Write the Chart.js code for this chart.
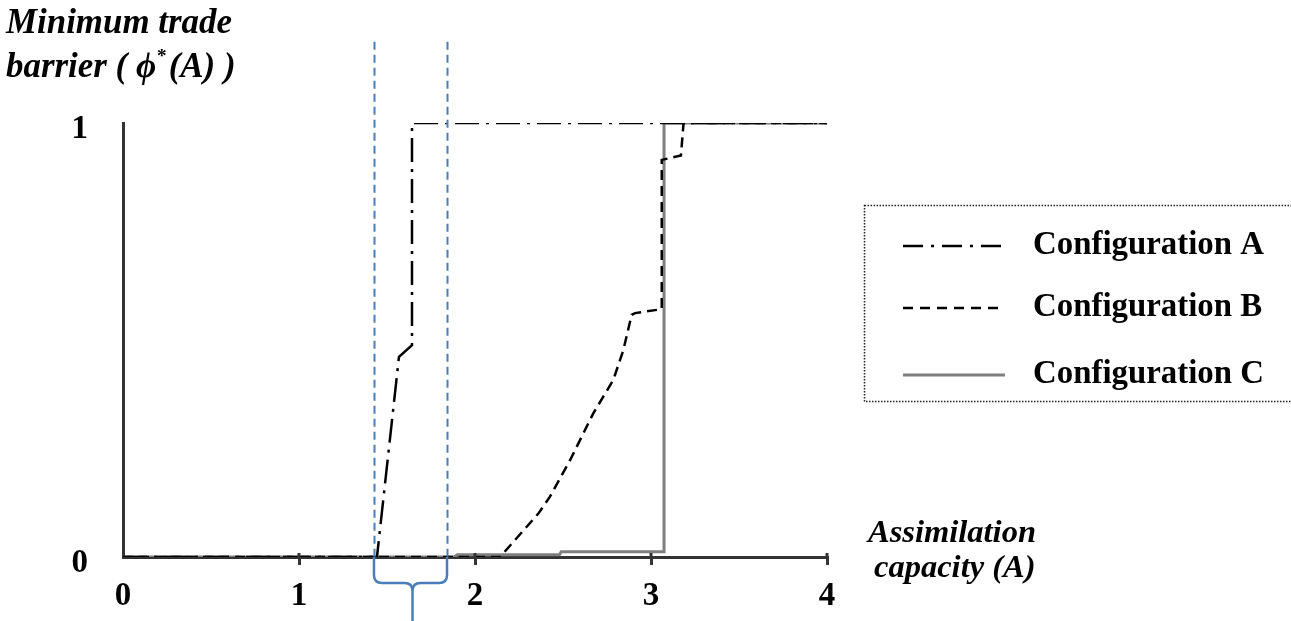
<!DOCTYPE html>
<html><head><meta charset="utf-8">
<script src="https://cdn.jsdelivr.net/npm/chart.js@4/dist/chart.umd.min.js"></script>
<style>html,body{margin:0;padding:0;background:#fff;}#wrap{width:1291px;height:621px;position:relative;}</style>
</head><body><div id="wrap"><canvas id="c" width="1291" height="621"></canvas></div>
<script>
// ---- data ----
const configAx = [0, 1.443, 1.568, 1.642, 1.642, 4];
const configAy = [0, 0, 0.461, 0.488, 1, 1];
const configBx = [0, 2.142, 2.360, 2.426, 2.540, 2.672, 2.786, 2.843, 2.890, 2.909, 3.061, 3.061, 3.170, 3.185, 4];
const configBy = [0, 0, 0.100, 0.139, 0.223, 0.331, 0.408, 0.477, 0.558, 0.562, 0.571, 0.915, 0.925, 1, 1];
const configCx = [0, 1.88, 1.90, 2.48, 2.49, 3.074, 3.074, 4];
const configCy = [0, 0, 0.005, 0.005, 0.012, 0.012, 1, 1];
const seriesNames = ['Configuration A', 'Configuration B', 'Configuration C'];
const xTickValues = [0, 1, 2, 3, 4];
const yTickValues = [0, 1];
const intervalBounds = [1.426, 1.841];
const intervalTop = 1.187;
const yTitleLines = ['Minimum trade', 'barrier ( ϕ', '*', '(A) )'];
const xTitleLines = ['Assimilation', 'capacity (A)'];

function pts(xs, ys) { return xs.map((x, i) => ({x: x, y: ys[i]})); }

const AXIS = '#333333';
const BLUE = '#4a7ebb';
const SERIF = '"Liberation Serif", "DejaVu Serif", serif';

function fitFont(ctx, str, style, targetW) {
  ctx.font = style + ' 100px ' + SERIF;
  const w = ctx.measureText(str).width;
  return 100 * targetW / w;
}

const overlay = {
  id: 'overlay',
  afterDatasetsDraw(chart) {
    const ctx = chart.ctx;
    const xs = chart.scales.x, ys = chart.scales.y;
    const yBottom = ys.getPixelForValue(0);
    const yTop = ys.getPixelForValue(intervalTop);
    ctx.save();
    ctx.strokeStyle = BLUE; ctx.lineWidth = 2; ctx.setLineDash([8, 5]);
    intervalBounds.forEach(v => {
      const px = Math.round(xs.getPixelForValue(v)) + 0.5;
      ctx.beginPath(); ctx.moveTo(px, yTop); ctx.lineTo(px, yBottom); ctx.stroke();
    });
    ctx.restore();
  },
  afterDraw(chart) {
    const ctx = chart.ctx;
    const xs = chart.scales.x, ys = chart.scales.y;
    const yBottom = ys.getPixelForValue(0);
    // x-axis tick stubs above the axis line
    ctx.save();
    ctx.strokeStyle = AXIS; ctx.lineWidth = 3;
    xTickValues.forEach(v => {
      if (v === 0) return;
      const px = xs.getPixelForValue(v);
      ctx.beginPath(); ctx.moveTo(px, yBottom - 4); ctx.lineTo(px, yBottom); ctx.stroke();
    });
    ctx.restore();
    // brace
    const L = xs.getPixelForValue(intervalBounds[0]);
    const R = xs.getPixelForValue(intervalBounds[1]);
    const M = (L + R) / 2 + 2;
    const hy = yBottom + 26, r = 8;
    ctx.save();
    ctx.strokeStyle = BLUE; ctx.lineWidth = 2.5; ctx.setLineDash([]);
    ctx.beginPath();
    ctx.moveTo(L, yBottom); ctx.lineTo(L, hy - r); ctx.quadraticCurveTo(L, hy, L + r, hy);
    ctx.lineTo(M - r, hy); ctx.quadraticCurveTo(M, hy, M, hy + r); ctx.lineTo(M, 621);
    ctx.moveTo(R, yBottom); ctx.lineTo(R, hy - r); ctx.quadraticCurveTo(R, hy, R - r, hy);
    ctx.lineTo(M + r, hy); ctx.quadraticCurveTo(M, hy, M, hy + r);
    ctx.stroke();
    ctx.restore();

    // axis titles
    ctx.save();
    ctx.fillStyle = '#000'; ctx.textBaseline = 'alphabetic'; ctx.textAlign = 'left';
    let s = fitFont(ctx, yTitleLines[0], 'italic bold', 226);
    ctx.font = 'italic bold ' + s + 'px ' + SERIF;
    ctx.fillText(yTitleLines[0], 6, 33);
    ctx.font = 'italic bold ' + s + 'px ' + SERIF;
    const w1 = ctx.measureText(yTitleLines[1]).width;
    ctx.fillText(yTitleLines[1], 6, 77);
    ctx.font = 'bold ' + (s * 0.55) + 'px ' + SERIF;
    ctx.fillText(yTitleLines[2], 6 + w1 + 1, 62);
    const w2 = ctx.measureText(yTitleLines[2]).width;
    ctx.font = 'italic bold ' + s + 'px ' + SERIF;
    ctx.fillText(yTitleLines[3], 6 + w1 + w2 + 3, 77);

    let s2 = fitFont(ctx, xTitleLines[0], 'italic bold', 168);
    ctx.font = 'italic bold ' + s2 + 'px ' + SERIF;
    ctx.fillText(xTitleLines[0], 868, 542);
    ctx.fillText(xTitleLines[1], 874, 577);
    ctx.restore();

    // legend box
    ctx.save();
    ctx.strokeStyle = '#222'; ctx.lineWidth = 1.5; ctx.setLineDash([1.5, 1.5]);
    ctx.strokeRect(864.5, 205.5, 1300 - 864, 196);
    ctx.restore();
    const rowsY = [246, 308, 375];
    let s3 = fitFont(ctx, seriesNames[0], 'bold', 231);
    chart.data.datasets.forEach((ds, i) => {
      const y = rowsY[i];
      ctx.save();
      ctx.strokeStyle = ds.borderColor; ctx.lineWidth = ds.borderWidth;
      ctx.setLineDash(ds.legendDash || []);
      ctx.beginPath(); ctx.moveTo(903, y); ctx.lineTo(1005, y); ctx.stroke();
      ctx.setLineDash([]);
      ctx.fillStyle = '#000'; ctx.textBaseline = 'middle'; ctx.textAlign = 'left';
      ctx.font = 'bold ' + s3 + 'px ' + SERIF;
      ctx.fillText(ds.label, 1033, y);
      ctx.restore();
    });
  }
};

new Chart(document.getElementById('c'), {
  type: 'scatter',
  data: {
    datasets: [
      { label: seriesNames[0], data: pts(configAx, configAy), showLine: true, borderColor: '#000', borderWidth: 2.5,
        borderDash: [24, 7, 3, 7], legendDash: [20, 8, 3, 8], pointRadius: 0, fill: false, tension: 0 },
      { label: seriesNames[1], data: pts(configBx, configBy), showLine: true, borderColor: '#000', borderWidth: 2.5,
        borderDash: [10, 6], legendDash: [10, 7], pointRadius: 0, fill: false, tension: 0 },
      { label: seriesNames[2], data: pts(configCx, configCy), showLine: true, borderColor: '#7f7f7f', borderWidth: 3,
        borderDash: [], legendDash: [], pointRadius: 0, fill: false, tension: 0 }
    ]
  },
  options: {
    responsive: false, animation: false, devicePixelRatio: 1,
    layout: { padding: { left: 0, top: 123, right: 464, bottom: 0 } },
    plugins: { legend: { display: false }, tooltip: { enabled: false } },
    scales: {
      x: {
        type: 'linear', min: 0, max: 4, z: 1,
        afterBuildTicks: sc => { sc.ticks = xTickValues.map(v => ({value: v})); },
        afterFit: sc => { sc.height = 64; },
        ticks: { color: '#000', font: { family: SERIF, size: 33, weight: 'bold' }, padding: 12, maxRotation: 0 },
        grid: { drawOnChartArea: false, tickLength: 8, lineWidth: 3,
                color: c => (c.tick && c.tick.value === 0) ? 'rgba(0,0,0,0)' : AXIS },
        border: { color: AXIS, width: 3 }
      },
      y: {
        type: 'linear', min: 0, max: 1, z: 1,
        afterBuildTicks: sc => { sc.ticks = yTickValues.map(v => ({value: v})); },
        afterFit: sc => { sc.width = 123; },
        ticks: { color: '#000', font: { family: SERIF, size: 33, weight: 'bold' }, padding: 35, labelOffset: 6 },
        grid: { drawOnChartArea: false, drawTicks: false },
        border: { color: AXIS, width: 3 }
      }
    }
  },
  plugins: [overlay]
});
</script>
</body></html>
